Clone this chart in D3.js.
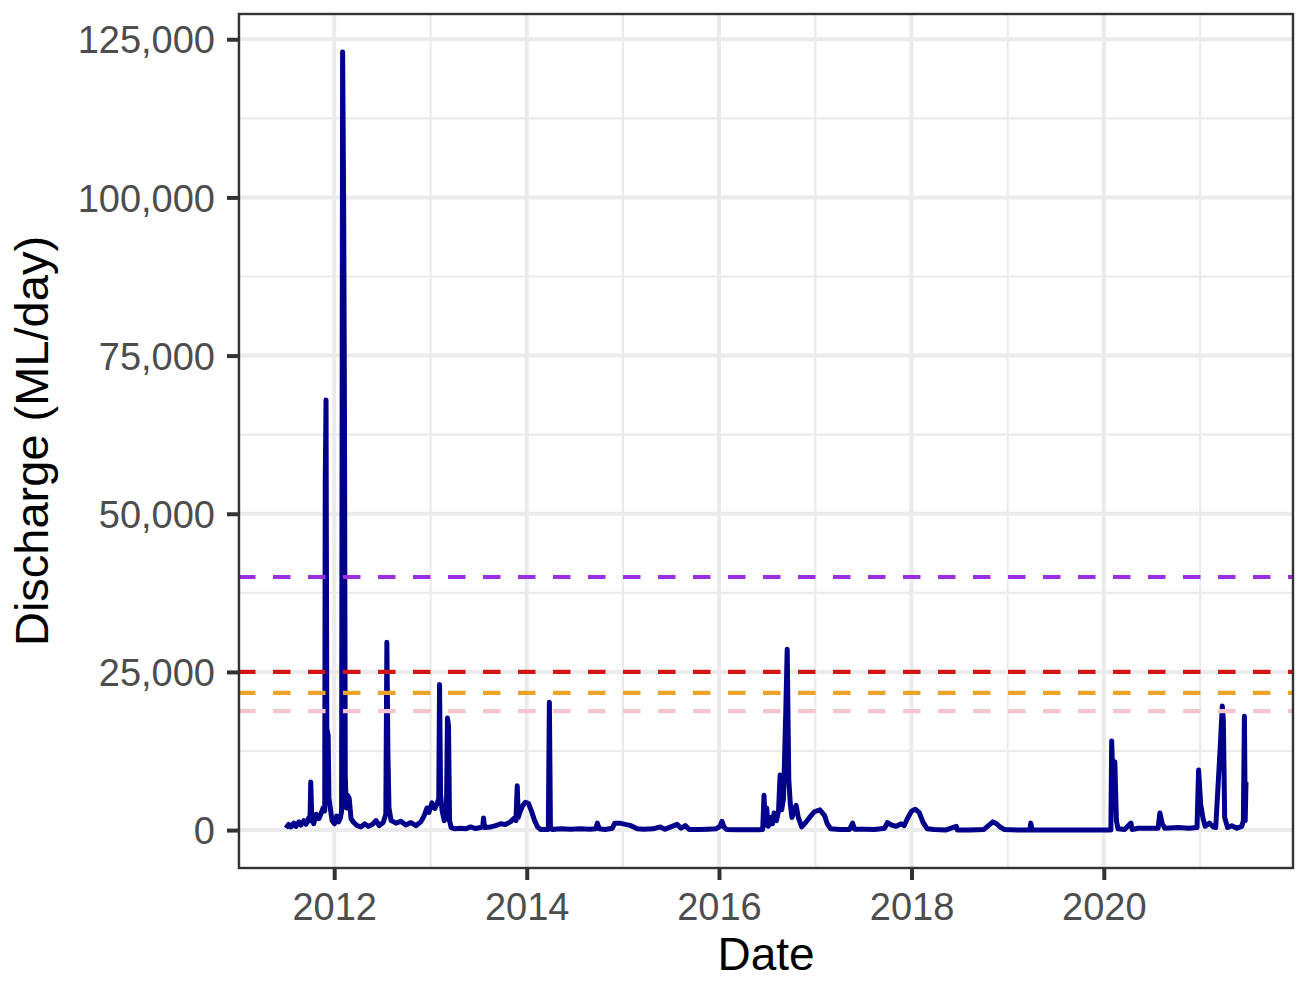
<!DOCTYPE html>
<html>
<head>
<meta charset="utf-8">
<script src="https://cdn.jsdelivr.net/npm/d3@7"></script>
<style>
  body { margin: 0; background: #fff; }
  text { font-family: "Liberation Sans", Arial, sans-serif; }
</style>
</head>
<body>
<svg width="1297" height="981"></svg>
<script>
// daily discharge (ML/day)
var flowDates = [
  "2011-07-02","2011-07-12","2011-07-21","2011-08-01","2011-08-09","2011-08-20","2011-08-28","2011-09-08",
  "2011-09-16","2011-09-27","2011-10-01","2011-10-04","2011-10-08","2011-10-15","2011-10-25","2011-11-04",
  "2011-11-12","2011-11-20","2011-11-26","2011-11-28","2011-12-01","2011-12-04","2011-12-09","2011-12-12",
  "2011-12-17","2011-12-24","2012-01-02","2012-01-10","2012-01-18","2012-01-25","2012-01-29","2012-02-02",
  "2012-02-06","2012-02-09","2012-02-12","2012-02-16","2012-02-21","2012-02-27","2012-03-05","2012-03-15",
  "2012-03-28","2012-04-12","2012-04-25","2012-05-10","2012-05-25","2012-06-08","2012-06-20","2012-07-05",
  "2012-07-15","2012-07-19","2012-07-23","2012-07-27","2012-08-04","2012-08-23","2012-09-10","2012-09-29",
  "2012-10-18","2012-11-06","2012-11-25","2012-12-08","2012-12-18","2012-12-26","2013-01-06","2013-01-17",
  "2013-01-26","2013-02-01","2013-02-04","2013-02-08","2013-02-14","2013-02-22","2013-03-02","2013-03-06",
  "2013-03-10","2013-03-14","2013-03-20","2013-04-05","2013-04-25","2013-05-14","2013-06-02","2013-06-21",
  "2013-07-10","2013-07-18","2013-07-21","2013-07-25","2013-08-17","2013-09-05","2013-09-24","2013-10-12",
  "2013-10-31","2013-11-12","2013-11-21","2013-11-26","2013-11-30","2013-12-06","2013-12-16","2013-12-27",
  "2014-01-08","2014-01-19","2014-01-31","2014-02-11","2014-02-22","2014-03-24","2014-03-28","2014-04-01",
  "2014-04-08","2014-05-09","2014-06-16","2014-07-24","2014-08-30","2014-09-20","2014-09-26","2014-10-03",
  "2014-10-26","2014-11-22","2014-12-01","2014-12-20","2015-01-10","2015-02-01","2015-02-25","2015-03-20",
  "2015-04-25","2015-05-23","2015-06-10","2015-06-25","2015-07-26","2015-08-10","2015-08-26","2015-09-10",
  "2015-10-15","2015-11-20","2015-12-20","2016-01-05","2016-01-12","2016-01-20","2016-01-30","2016-03-10",
  "2016-04-20","2016-05-30","2016-06-15","2016-06-20","2016-06-24","2016-06-30","2016-07-06","2016-07-15",
  "2016-07-22","2016-07-28","2016-08-06","2016-08-14","2016-08-20","2016-08-26","2016-09-02","2016-09-11",
  "2016-09-16","2016-09-22","2016-09-28","2016-10-04","2016-10-12","2016-10-20","2016-10-28","2016-11-10",
  "2016-11-25","2016-12-10","2016-12-28","2017-01-18","2017-02-05","2017-02-15","2017-02-28","2017-04-04",
  "2017-05-11","2017-05-22","2017-05-30","2017-07-07","2017-08-14","2017-09-21","2017-10-02","2017-10-17",
  "2017-11-04","2017-11-23","2017-12-04","2017-12-16","2018-01-01","2018-01-15","2018-01-30","2018-02-14",
  "2018-03-02","2018-03-28","2018-05-10","2018-06-20","2018-06-24","2018-08-08","2018-10-03","2018-10-20",
  "2018-11-06","2018-11-20","2018-12-06","2018-12-20","2019-02-13","2019-03-26","2019-03-30","2019-04-04",
  "2019-07-14","2019-11-05","2020-01-28","2020-01-31","2020-02-06","2020-02-12","2020-02-18","2020-02-24",
  "2020-03-20","2020-04-13","2020-04-18","2020-05-10","2020-06-10","2020-07-25","2020-08-01","2020-08-10",
  "2020-08-20","2020-10-10","2020-11-20","2020-12-20","2020-12-26","2021-01-03","2021-01-12","2021-01-20",
  "2021-02-05","2021-02-20","2021-03-01","2021-03-18","2021-03-26","2021-03-30","2021-04-04","2021-04-15",
  "2021-05-01","2021-05-20","2021-06-08","2021-06-14","2021-06-18","2021-06-21","2021-06-24"
];
var flowValues = [
  300,900,500,1100,600,1300,800,1500,
  900,2000,1500,7600,1800,1000,2500,1800,
  2600,3500,3000,55000,68000,16000,15000,5000,
  3500,1500,1000,2200,1300,2000,3000,123000,
  98000,66000,8500,3500,5500,5000,1800,1200,
  700,500,1000,600,900,1500,700,1200,
  2500,29700,12000,3500,1500,1100,1400,800,
  1200,700,1300,2300,3500,2800,4300,3400,
  4200,5000,23000,5500,3000,1500,2000,17700,
  16500,1500,400,200,300,200,500,250,
  400,500,1900,400,500,700,1000,900,
  1300,1800,1500,7000,2000,2800,3800,4400,
  4200,3000,1500,500,100,100,20200,500,
  100,200,150,200,150,200,1100,200,
  100,300,1100,1100,900,700,200,150,
  200,500,150,400,900,300,700,100,
  100,150,200,600,1400,500,100,50,
  50,50,100,5500,800,3500,600,2000,
  1000,2700,1500,3000,8700,3200,5000,19400,
  28600,8000,4000,2000,3000,3900,2000,500,
  1200,2000,2900,3200,2300,1000,200,100,
  100,1100,150,150,100,300,1200,800,
  600,1000,700,1800,3000,3300,2800,1200,
  200,100,0,600,0,0,100,700,
  1300,1000,400,100,0,0,1100,0,
  0,0,0,14100,6000,10800,1500,200,
  100,1100,100,300,300,300,2700,1000,
  300,400,300,400,9500,4000,1800,600,
  1100,500,400,13000,19600,17300,2000,400,
  700,300,600,1500,18000,1500,7600
];

// flow threshold lines (ML/day)
var thresholdValues = [40000, 25000, 21700, 18800];
var thresholdColours = ["#9b2ee0", "#d11414", "#eba32a", "#f4c4cf"];

var yearTicks = [2012, 2014, 2016, 2018, 2020];
var flowTicks = [0, 25000, 50000, 75000, 100000, 125000];
var flowMinor = [12500, 37500, 62500, 87500, 112500];

var parse = d3.timeParse("%Y-%m-%d");
var data = flowDates.map(function (d, i) { return { date: parse(d), q: flowValues[i] }; });

var svg = d3.select("svg");
var panel = { left: 238, top: 13, right: 1294, bottom: 869 };
var width = panel.right - panel.left;
var height = panel.bottom - panel.top;

// ggplot style 5% expansion on both scales
var xExt = d3.extent(data, function (d) { return d.date; });
var xPad = (xExt[1] - xExt[0]) * 0.05;
var xScale = d3.scaleTime()
  .domain([new Date(+xExt[0] - xPad), new Date(+xExt[1] + xPad)])
  .range([0, width]);

var yExt = d3.extent(data, function (d) { return d.q; });
var yPad = (yExt[1] - yExt[0]) * 0.05;
var yScale = d3.scaleLinear().domain([yExt[0] - yPad, yExt[1] + yPad]).range([height, 0]);

var g = svg.append("g").attr("transform", "translate(" + panel.left + "," + panel.top + ")");

g.append("rect").attr("width", width).attr("height", height).attr("fill", "#fff");

var yearMinor = d3.range(2011, 2023, 2).map(function (y) { return new Date(y, 0, 1); })
  .filter(function (d) { return d >= xScale.domain()[0] && d <= xScale.domain()[1]; });

// minor grid
g.selectAll(".ymin").data(flowMinor).enter().append("line")
  .attr("x1", 0).attr("x2", width)
  .attr("y1", function (d) { return yScale(d); }).attr("y2", function (d) { return yScale(d); })
  .attr("stroke", "#ebebeb").attr("stroke-width", 2.2);
g.selectAll(".xmin").data(yearMinor).enter().append("line")
  .attr("y1", 0).attr("y2", height)
  .attr("x1", function (d) { return xScale(d); }).attr("x2", function (d) { return xScale(d); })
  .attr("stroke", "#ebebeb").attr("stroke-width", 2.2);

// major grid
g.selectAll(".ymaj").data(flowTicks).enter().append("line")
  .attr("x1", 0).attr("x2", width)
  .attr("y1", function (d) { return yScale(d); }).attr("y2", function (d) { return yScale(d); })
  .attr("stroke", "#ebebeb").attr("stroke-width", 4);
g.selectAll(".xmaj").data(yearTicks).enter().append("line")
  .attr("y1", 0).attr("y2", height)
  .attr("x1", function (d) { return xScale(new Date(d, 0, 1)); })
  .attr("x2", function (d) { return xScale(new Date(d, 0, 1)); })
  .attr("stroke", "#ebebeb").attr("stroke-width", 4);

// discharge line
var line = d3.line()
  .x(function (d) { return xScale(d.date); })
  .y(function (d) { return yScale(d.q); });

g.append("path")
  .datum(data)
  .attr("d", line)
  .attr("fill", "none")
  .attr("stroke", "#00008b")
  .attr("stroke-width", 5)
  .attr("stroke-linejoin", "round");

// thresholds
g.selectAll(".thr").data(thresholdValues).enter().append("line")
  .attr("x1", 0).attr("x2", width)
  .attr("y1", function (d) { return yScale(d); }).attr("y2", function (d) { return yScale(d); })
  .attr("stroke", function (d, i) { return thresholdColours[i]; })
  .attr("stroke-width", 4.2)
  .attr("stroke-dasharray", "17.5,17.5");

// panel border
g.append("rect").attr("x", 1).attr("y", 1).attr("width", width - 2).attr("height", height - 2)
  .attr("fill", "none").attr("stroke", "#333333").attr("stroke-width", 2.4);

// axes
var xAxis = g.append("g").attr("transform", "translate(0," + height + ")")
  .call(d3.axisBottom(xScale)
    .tickValues(yearTicks.map(function (y) { return new Date(y, 0, 1); }))
    .tickFormat(d3.timeFormat("%Y"))
    .tickSize(11).tickPadding(13));
var yAxis = g.append("g")
  .call(d3.axisLeft(yScale).tickValues(flowTicks).tickFormat(d3.format(",")).tickSize(11).tickPadding(12));

[xAxis, yAxis].forEach(function (ax) {
  ax.select(".domain").remove();
  ax.selectAll(".tick line").attr("stroke", "#333333").attr("stroke-width", 4);
  ax.selectAll(".tick text").attr("fill", "#4d4d4d").style("font-size", "38px")
    .style("font-family", "'Liberation Sans', Arial, sans-serif");
});
xAxis.selectAll(".tick text").attr("dy", "0.71em");
yAxis.selectAll(".tick text").attr("dy", "0.36em");

svg.append("text")
  .attr("x", panel.left + width / 2).attr("y", 970)
  .attr("text-anchor", "middle")
  .style("font-size", "46px").attr("fill", "#000")
  .text("Date");

svg.append("text")
  .attr("transform", "translate(48," + (panel.top + height / 2) + ") rotate(-90)")
  .attr("text-anchor", "middle")
  .style("font-size", "47px").attr("fill", "#000")
  .text("Discharge (ML/day)");
</script>
</body>
</html>
